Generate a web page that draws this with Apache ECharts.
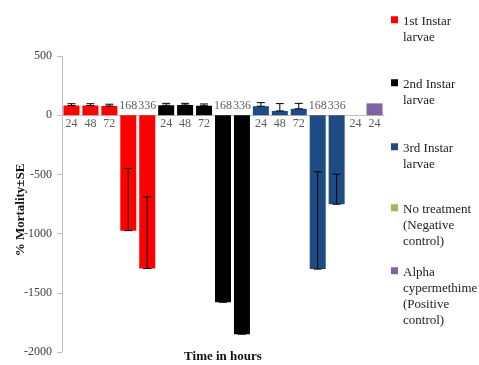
<!DOCTYPE html>
<html><head><meta charset="utf-8">
<script src="https://cdn.jsdelivr.net/npm/echarts@6/dist/echarts.min.js"></script>
<style>html,body{margin:0;padding:0;background:#fff}#c{width:479px;height:365px}</style>
</head><body><div id="c"></div>
<script>
// ---- data ----
const categories = ['24','48','72','168','336','24','48','72','168','336','24','48','72','168','336','24','24'];
const seriesNames = ['1st Instar larvae','2nd Instar larvae','3rd Instar larvae','No treatment (Negative control)','Alpha cypermethime (Positive control)'];
const legendLabels = ['1st Instar\nlarvae','2nd Instar\nlarvae','3rd Instar\nlarvae','No treatment\n(Negative\ncontrol)','Alpha\ncypermethime\n(Positive\ncontrol)'];
const instar1 = [82, 82, 78, -975, -1295];
const instar1SE = [15, 15, 15, 525, 605];
const instar2 = [84, 86, 80, -1580, -1850];
const instar2SE = [16, 14, 15, 300, 300];
const instar3 = [76, 36, 54, -1300, -752];
const instar3SE = [30, 62, 46, 822, 254];
const negControl = [0];
const negControlSE = [0];
const posControl = [100];
const posControlSE = [0];
const yTicks = { min: -2000, max: 500, step: 500 };

const groups = [
  { vals: instar1, se: instar1SE, start: 0, color: '#ff0000' },
  { vals: instar2, se: instar2SE, start: 5, color: '#000000' },
  { vals: instar3, se: instar3SE, start: 10, color: '#1f4b85' },
  { vals: negControl, se: negControlSE, start: 15, color: '#9bbb59' },
  { vals: posControl, se: posControlSE, start: 16, color: '#8064a2' }
];

const FONT = 'Liberation Serif';
const N = categories.length;

const allVals = new Array(N).fill(0);
const errData = [];
groups.forEach(g => g.vals.forEach((v, k) => {
  allVals[g.start + k] = v;
  if (g.se[k] > 0) errData.push([g.start + k, v, g.se[k]]);
}));

const barSeries = groups.map((g, gi) => {
  const d = new Array(N).fill('-');
  g.vals.forEach((v, k) => { d[g.start + k] = v; });
  return {
    name: seriesNames[gi], type: 'bar', stack: 'all', data: d,
    barWidth: 16, itemStyle: { color: g.color }, silent: true
  };
});

const labelData = categories.map((c, i) => ({
  value: [i, 0],
  label: { position: allVals[i] < 0 ? 'top' : 'bottom', distance: allVals[i] < 0 ? 3 : 2 }
}));

// legend: first-line centre y of each entry
const legendFirstLineY = [22, 85, 149, 210, 273];
const LH = 16;
const legends = seriesNames.map((nm, i) => {
  const n = legendLabels[i].split('\n').length;
  const H = n * LH;
  return {
    data: [nm], left: 391, top: legendFirstLineY[i] - LH / 2, orient: 'vertical', padding: 0,
    itemWidth: 7, itemHeight: H, selectedMode: false,
    icon: 'path://M0,4.5L7,4.5L7,11.5L0,11.5Z M0,' + H,
    formatter: () => legendLabels[i],
    textStyle: { fontFamily: FONT, fontSize: 13, lineHeight: LH, color: '#222' }
  };
});

const chart = echarts.init(document.getElementById('c'), null, { renderer: 'canvas' });
chart.setOption({
  animation: false,
  backgroundColor: '#fff',
  grid: { left: 62, right: 95, top: 56, bottom: 13, outerBoundsMode: 'none', containLabel: false },
  legend: legends,
  xAxis: {
    type: 'category', data: categories, boundaryGap: true,
    axisLine: { show: true, onZero: true, lineStyle: { color: '#bfbfbf', width: 1 } },
    axisTick: { show: false }, axisLabel: { show: false }, splitLine: { show: false }
  },
  yAxis: {
    type: 'value', min: yTicks.min, max: yTicks.max, interval: yTicks.step,
    axisLine: { show: true, lineStyle: { color: '#bfbfbf' } },
    axisTick: { show: true, length: 5, lineStyle: { color: '#bfbfbf' } },
    splitLine: { show: false },
    axisLabel: { fontFamily: FONT, fontSize: 12, color: '#404040', margin: 10, formatter: v => String(v) },
    name: '% Mortality±SE', nameLocation: 'middle', nameGap: 35, nameMoveOverlap: false,
    nameTextStyle: { fontFamily: FONT, fontWeight: 'bold', fontSize: 13, color: '#111', padding: [0, 12, 0, 0] }
  },
  graphic: [{
    type: 'text', x: 223, y: 357, silent: true,
    style: { text: 'Time in hours', font: 'bold 13px "Liberation Serif"', fill: '#111', textAlign: 'center', textVerticalAlign: 'middle' }
  }],
  series: [
    ...barSeries,
    {
      type: 'custom', name: 'SE', data: errData, silent: true, z: 5,
      renderItem: function (params, api) {
        const x = api.value(0), v = api.value(1), se = api.value(2);
        const p1 = api.coord([x, v]);
        const p2 = api.coord([x, v + se]);
        const hw = 4;
        const st = { stroke: '#000', lineWidth: 1 };
        return {
          type: 'group', children: [
            { type: 'line', shape: { x1: p1[0], y1: p1[1], x2: p2[0], y2: p2[1] }, style: st },
            { type: 'line', shape: { x1: p1[0] - hw, y1: p1[1], x2: p1[0] + hw, y2: p1[1] }, style: st },
            { type: 'line', shape: { x1: p2[0] - hw, y1: p2[1], x2: p2[0] + hw, y2: p2[1] }, style: st }
          ]
        };
      }
    },
    {
      type: 'scatter', name: 'labels', data: labelData, symbolSize: 1, silent: true, z: 6,
      itemStyle: { color: 'rgba(0,0,0,0)' },
      label: {
        show: true, fontFamily: FONT, fontSize: 12, color: '#333',
        formatter: p => categories[p.value[0]]
      }
    }
  ]
});
</script></body></html>
